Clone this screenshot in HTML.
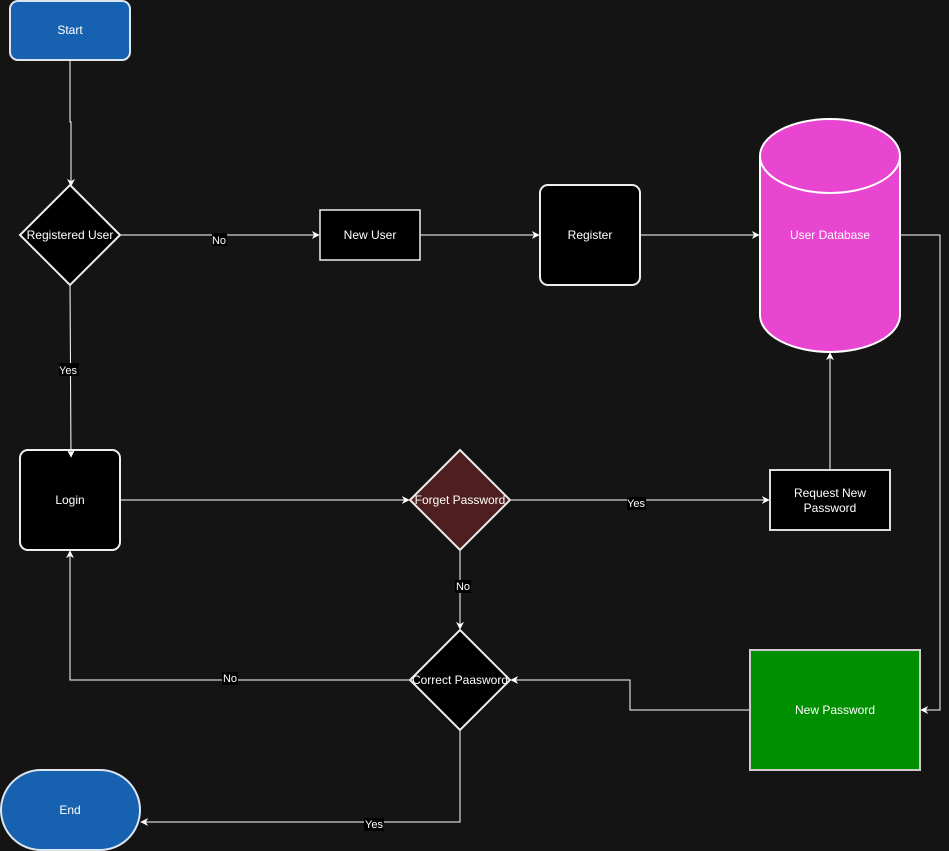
<!DOCTYPE html>
<html><head><style>
html,body{margin:0;padding:0;background:#141414;}
svg{display:block;font-family:"Liberation Sans",Arial,sans-serif;font-size:12px;}
</style></head><body>
<svg width="949" height="851" viewBox="0 0 949 851" xmlns="http://www.w3.org/2000/svg">
<defs>
<marker id="a" viewBox="0 0 10 10" refX="9" refY="5" markerWidth="8" markerHeight="8" orient="auto-start-reverse" markerUnits="userSpaceOnUse">
<path d="M0,0 L10,5 L0,10 L3,5 Z" fill="#fff"/>
</marker>
</defs>
<rect width="949" height="851" fill="#141414"/>
<g fill="none" stroke="#fff" stroke-width="1">
<path d="M70,60 V122 H71 V186" marker-end="url(#a)"/>
<path d="M120,235 H319" marker-end="url(#a)"/>
<path d="M420,235 H539" marker-end="url(#a)"/>
<path d="M640,235 H759" marker-end="url(#a)"/>
<path d="M900,235 H940 V710 H921" marker-end="url(#a)"/>
<path d="M750,710 H630 V680 H511" marker-end="url(#a)"/>
<path d="M410,680 H70 V551" marker-end="url(#a)"/>
<path d="M120,500 H409" marker-end="url(#a)"/>
<path d="M510,500 H769" marker-end="url(#a)"/>
<path d="M830,470 V353" marker-end="url(#a)"/>
<path d="M460,550 V629" marker-end="url(#a)"/>
<path d="M460,730 V822 H141" marker-end="url(#a)"/>
</g>
<g stroke-width="2">
<rect x="10" y="1" width="120" height="59" rx="8" fill="#1762b0" stroke="#dde6f0"/>
<polygon points="70,185 120,235 70,285 20,235" fill="#000" stroke="#eee"/>
<rect x="320" y="210" width="100" height="50" fill="#000" stroke="#eee" stroke-width="1.5"/>
<rect x="540" y="185" width="100" height="100" rx="8" fill="#000" stroke="#eee"/>
<path d="M760,156 A70,37 0 0 1 900,156 V315 A70,37 0 0 1 760,315 Z" fill="#e846d0" stroke="#fff"/>
<path d="M760,156 A70,37 0 0 0 900,156" fill="none" stroke="#fff"/>
<rect x="20" y="450" width="100" height="100" rx="8" fill="#000" stroke="#eee"/>
<polygon points="460,450 510,500 460,550 410,500" fill="#4f1f1f" stroke="#eee"/>
<rect x="770" y="470" width="120" height="60" fill="#000" stroke="#ddd"/>
<polygon points="460,630 510,680 460,730 410,680" fill="#000" stroke="#eee"/>
<rect x="750" y="650" width="170" height="120" fill="#008f00" stroke="#ccc"/>
<rect x="1" y="770" width="139" height="80" rx="40" fill="#1762b0" stroke="#dde6f0"/>
</g>
<path d="M70,285 L71,457" fill="none" stroke="#fff" marker-end="url(#a)"/>
<g fill="#fff" text-anchor="middle">
<text x="70" y="34">Start</text>
<text x="70" y="239">Registered User</text>
<text x="370" y="239">New User</text>
<text x="590" y="239">Register</text>
<text x="830" y="239">User Database</text>
<text x="70" y="504">Login</text>
<text x="460" y="504">Forget Password</text>
<text x="830" y="497">Request New</text>
<text x="830" y="512">Password</text>
<text x="460" y="684">Correct Paasword</text>
<text x="835" y="714">New Password</text>
<text x="70" y="814">End</text>
</g>
<g font-size="11">
<rect x="212" y="233" width="15" height="13" fill="#000"/>
<text x="219" y="244" fill="#fff" text-anchor="middle">No</text>
<rect x="59" y="363" width="20" height="13" fill="#000"/>
<text x="68" y="374" fill="#fff" text-anchor="middle">Yes</text>
<rect x="627" y="497" width="19" height="13" fill="#000"/>
<text x="636" y="507" fill="#fff" text-anchor="middle">Yes</text>
<rect x="455" y="580" width="16" height="13" fill="#000"/>
<text x="463" y="590" fill="#fff" text-anchor="middle">No</text>
<rect x="222" y="672" width="16" height="13" fill="#000"/>
<text x="230" y="682" fill="#fff" text-anchor="middle">No</text>
<rect x="364" y="818" width="20" height="13" fill="#000"/>
<text x="374" y="828" fill="#fff" text-anchor="middle">Yes</text>
</g>
</svg>
</body></html>
